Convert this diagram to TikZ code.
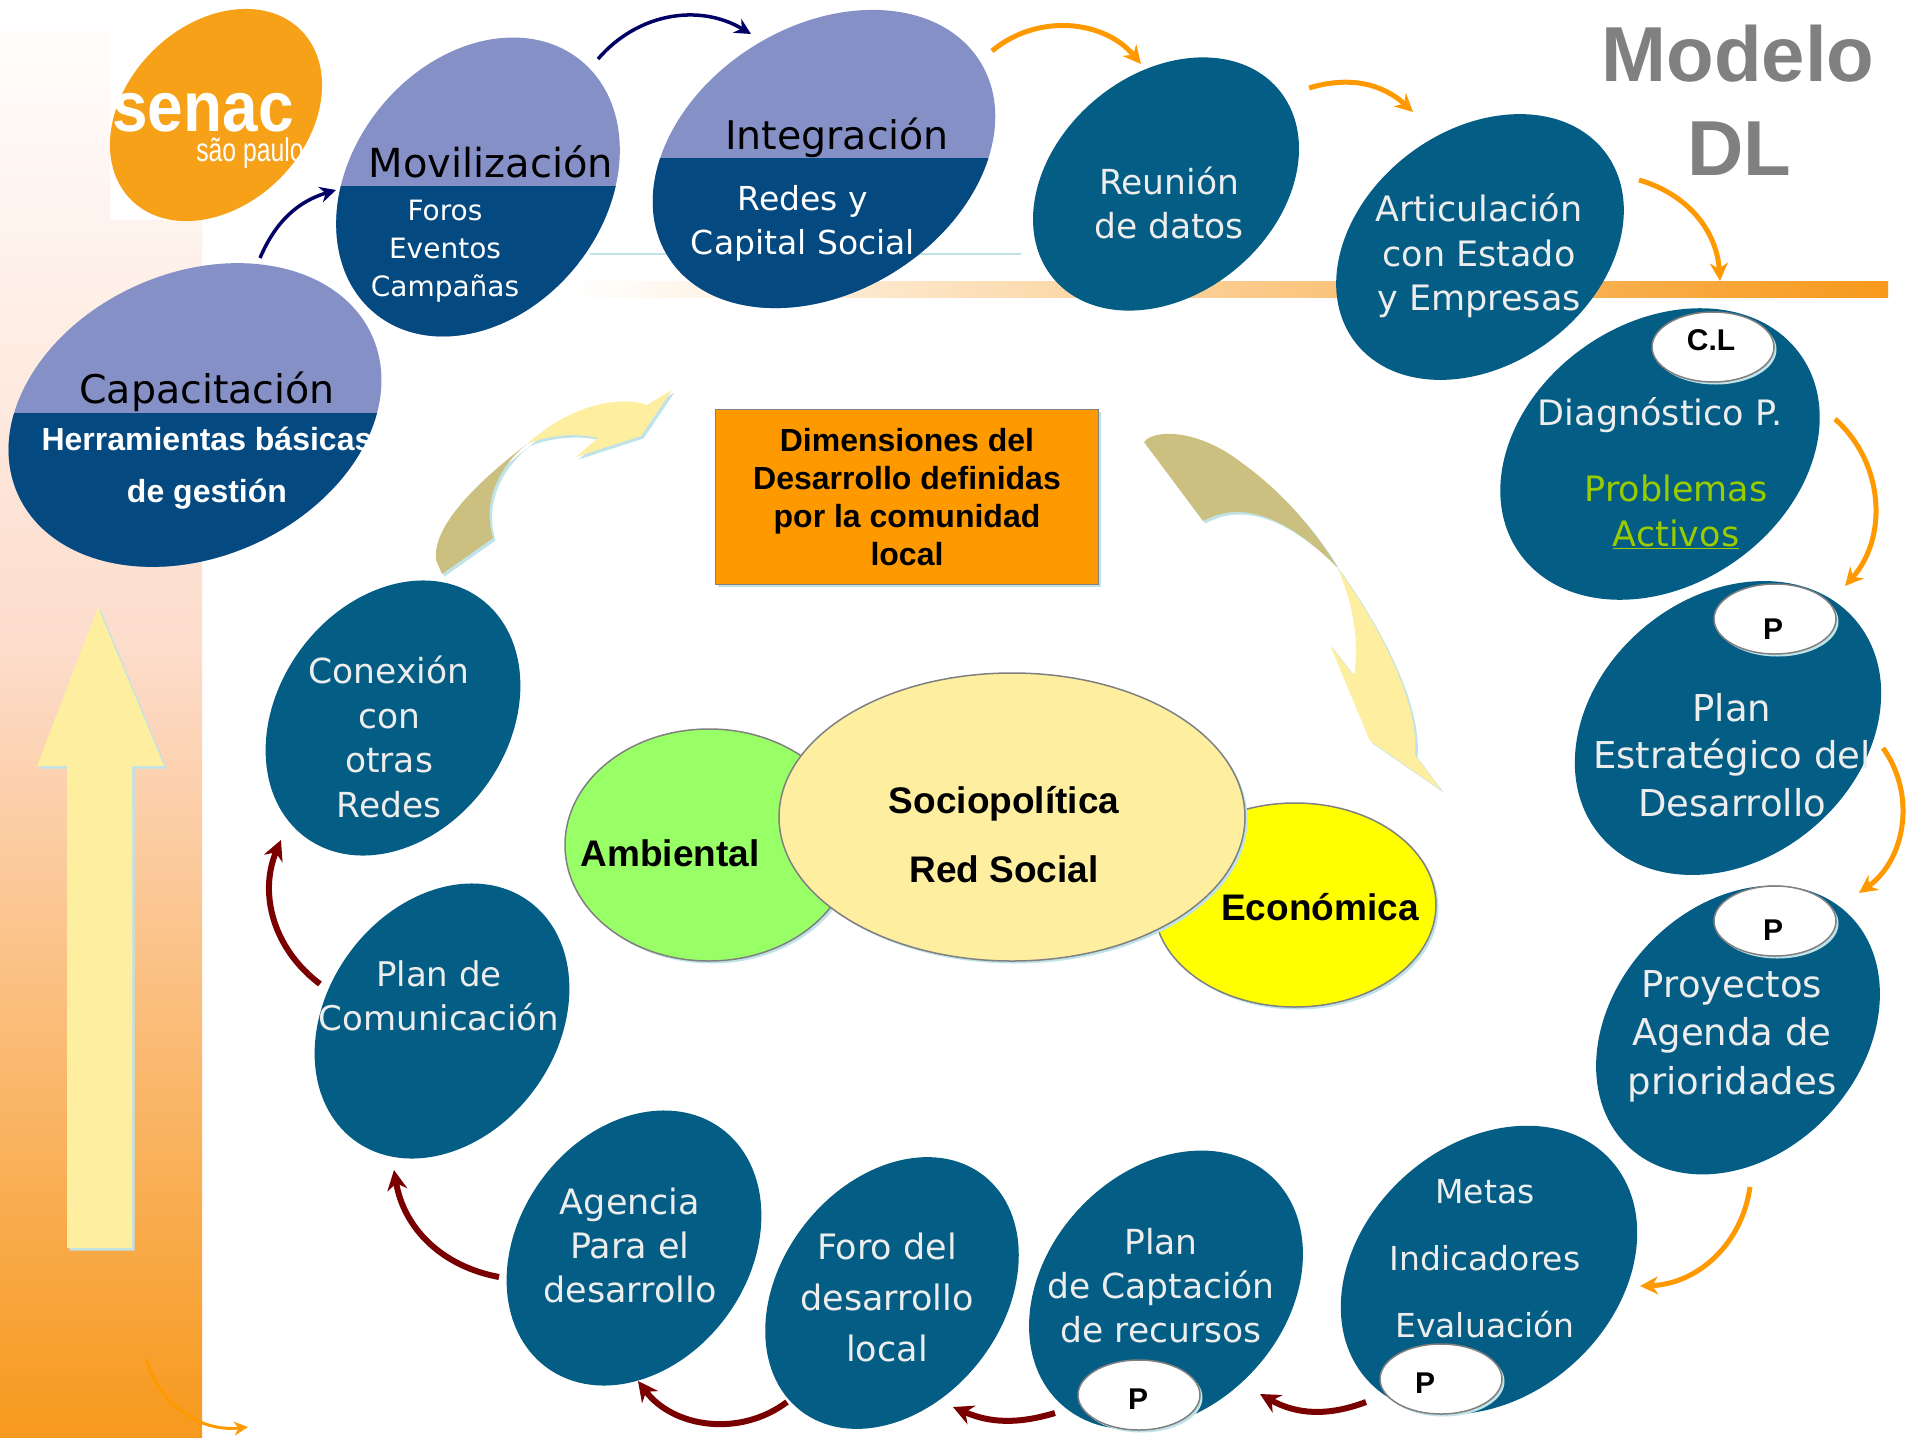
\documentclass[tikz,border=0pt]{standalone}
\usepackage{fontspec}
\usepackage{xcolor}
\usetikzlibrary{arrows.meta,shapes.geometric,shadows}
\setmainfont{DejaVu Sans}
\newfontfamily\arialfont{Liberation Sans}
\newfontfamily\logofont[FakeStretch=0.9]{Liberation Sans}
\newfontfamily\paulofont[FakeStretch=0.75]{Liberation Sans}
\definecolor{bubbleblue}{HTML}{045D84}
\definecolor{deepblue}{HTML}{044A80}
\definecolor{lavender}{HTML}{8590C6}
\definecolor{softorange}{HTML}{FF9900}
\definecolor{logoorange}{HTML}{F6A117}
\definecolor{columnorange}{HTML}{F7991C}
\definecolor{columnpeach}{HTML}{FDDCCB}
\definecolor{bandpeach}{HTML}{F9C29E}
\definecolor{darkred}{HTML}{7A0000}
\definecolor{navyline}{HTML}{000066}
\definecolor{paleyellow}{HTML}{FDEEA0}
\definecolor{khaki}{HTML}{CCC080}
\definecolor{iceblue}{HTML}{BFE3E8}
\definecolor{limetext}{HTML}{99CC00}
\definecolor{lighttext}{HTML}{EDEDED}
\definecolor{softgreen}{HTML}{99FF66}
\definecolor{sharpyellow}{HTML}{FFFF00}
\tikzset{
	bubble/.style n args={3}{ellipse, fill=bubbleblue, inner sep=0pt, rotate=#1, minimum width=#2pt, minimum height=#3pt},
	bubbletext/.style 2 args={align=center, text=lighttext, inner sep=0pt, font=\fontsize{#1}{#2}\selectfont},
	headtext/.style={align=center, text=black, inner sep=0pt, font=\fontsize{#1}{#1}\selectfont},
	softshadow/.style={drop shadow={fill=iceblue, opacity=1, shadow xshift=2.5pt, shadow yshift=-2.5pt}},
	dimension/.style n args={2}{ellipse, draw=gray, line width=1.5pt, inner sep=0pt, minimum width=#1pt, minimum height=#2pt, softshadow},
	dimtext/.style={align=center, text=black, inner sep=0pt, font=\arialfont\bfseries\fontsize{37}{37}\selectfont},
	tag/.style={ellipse, draw=gray, fill=white, line width=1.5pt, inner sep=0pt, minimum width=122pt, minimum height=70pt, softshadow},
	tagtext/.style={inner sep=0pt, text=black, font=\arialfont\bfseries\fontsize{30}{30}\selectfont},
	titletext/.style={inner sep=0pt, text=gray, font=\arialfont\bfseries\fontsize{78}{78}\selectfont},
	navyarrow/.style={draw=navyline, line width=3.5pt, -{Stealth[length=16pt,width=16pt]}},
	orangearrow/.style={draw=softorange, line width=5pt, -{Stealth[length=18pt,width=18pt]}},
	redarrow/.style={draw=darkred, line width=6pt, -{Stealth[length=20pt,width=20pt]}},
}
\begin{document}
\begin{tikzpicture}[x=1pt,y=-1pt]
	\useasboundingbox (0,0) rectangle (1915,1438);
	\fill [white] (0,0) rectangle (1915,1438);

	\shade [top color=white, bottom color=columnpeach] (0,0) rectangle (202,651);
	\shade [top color=columnpeach, bottom color=columnorange] (0,650) rectangle (202,1438);
	\fill [white] (110,0) rectangle (202,220);
	\shade [left color=white, middle color=bandpeach, right color=columnorange] (570,281) rectangle (1888,297);
	\draw [iceblue, line width=1.5pt] (590,254) -- (1021,254);

	\fill [paleyellow, softshadow] (98,607) -- (164,766) -- (132,766) -- (132,1248) -- (67,1248) -- (67,766) -- (37,766) -- cycle;

	\node [ellipse, fill=logoorange, inner sep=0pt, rotate=45, minimum width=240pt, minimum height=180pt] (logo) at (216,115){};
	\node [inner sep=0pt, text=white, font=\logofont\bfseries\fontsize{71}{71}\selectfont] (senac) at (203,113){senac};
	\node [inner sep=0pt, text=white, font=\paulofont\fontsize{33}{33}\selectfont] (saopaulo) at (250,153){são paulo};

	\node [bubble={24}{388}{284}, fill=lavender] (1) at (195,415){};
	\node [bubble={51}{326}{252}, fill=lavender] (2) at (478,187){};
	\node [bubble={32}{368}{266}, fill=lavender] (3) at (824,159){};
	\begin{scope}
		\clip [rotate around={24:(1.center)}] (1.center) ellipse [x radius=194, y radius=142];
		\fill [deepblue] (0,413) rectangle (400,600);
	\end{scope}
	\begin{scope}
		\clip [rotate around={51:(2.center)}] (2.center) ellipse [x radius=163, y radius=126];
		\fill [deepblue] (300,186) rectangle (640,350);
	\end{scope}
	\begin{scope}
		\clip [rotate around={32:(3.center)}] (3.center) ellipse [x radius=184, y radius=133];
		\fill [deepblue] (640,158) rectangle (1000,320);
	\end{scope}
	\node [bubble={40}{294}{220}] (4) at (1166,184){};
	\node [bubble={37}{314}{234}] (5) at (1480,247){};
	\node [bubble={35}{344}{262}] (6) at (1660,454){};
	\node [bubble={40}{334}{262}] (7) at (1728,728){};
	\node [bubble={47}{320}{248}] (8) at (1738,1030){};
	\node [bubble={42}{328}{252}] (9) at (1489,1270){};
	\node [bubble={47}{310}{238}] (10) at (1166,1290){};
	\node [bubble={52}{298}{222}] (11) at (892,1293){};
	\node [bubble={54}{296}{230}] (12) at (634,1248){};
	\node [bubble={54}{296}{230}] (13) at (442,1021){};
	\node [bubble={54}{296}{230}] (14) at (393,718){};

	\node [headtext=39.5] (capacitacion) at (207,392){Capacitación};
	\node [align=center, inner sep=0pt, text=white, font=\arialfont\bfseries\fontsize{32}{52}\selectfont] (herramientas) at (207,468){Herramientas básicas\\de gestión};
	\node [headtext=40] (movilizacion) at (491,162){Movilización};
	\node [bubbletext={28}{38}, text=white] (foros) at (445,251){Foros\\Eventos\\Campañas};
	\node [headtext=39.5] (integracion) at (837,138){Integración};
	\node [bubbletext={33}{44}, text=white] (redes) at (803,223){Redes y\\Capital Social};
	\node [bubbletext={34.5}{44.6}] (reunion) at (1169,203){Reunión\\de datos};
	\node [bubbletext={35}{44.6}] (articulacion) at (1479,256){Articulación\\con Estado\\y Empresas};
	\node [bubbletext={35}{44}] (diagnostico) at (1660,415){Diagnóstico P.};
	\node [bubbletext={35}{44.6}, text=limetext] (problemas) at (1676,512){Problemas\\\underline{Activos}};
	\node [bubbletext={37}{47.6}] (estrategico) at (1732,755){Plan\\Estratégico del\\Desarrollo};
	\node [bubbletext={37}{48.5}] (proyectos) at (1732,1036){Proyectos\\Agenda de\\prioridades};
	\node [bubbletext={33}{67}] (metas) at (1485,1259){Metas\\Indicadores\\Evaluación};
	\node [bubbletext={34.5}{44}] (captacion) at (1161,1286){Plan\\de Captación\\de recursos};
	\node [bubbletext={35}{51}] (foro) at (887,1297){Foro del\\desarrollo\\local};
	\node [bubbletext={35}{44}] (agencia) at (630,1245){Agencia\\Para el\\desarrollo};
	\node [bubbletext={34}{44}] (comunicacion) at (439,996){Plan de\\Comunicación};
	\node [bubbletext={34.5}{44.8}] (conexion) at (389,737){Conexión\\con\\otras\\Redes};

	\node [tag] (tagcl) at (1713,347){};
	\node [tag] (tagplan) at (1775,619){};
	\node [tag] (tagproyectos) at (1775,921){};
	\node [tag] (tagcaptacion) at (1139,1395){};
	\node [tag] (tagmetas) at (1441,1379){};
	\node [tagtext] (clabel) at (1711,340){C.L};
	\node [tagtext] (plabela) at (1773,629){P};
	\node [tagtext] (plabelb) at (1773,930){P};
	\node [tagtext] (plabelc) at (1138,1399){P};
	\node [tagtext] (plabeld) at (1425,1383){P};

	\node [titletext] (modelo) at (1738,54){Modelo};
	\node [titletext] (dl) at (1739,149){DL};

	\node [draw=gray, line width=1.5pt, fill=softorange, align=center, minimum width=383pt, minimum height=175pt, softshadow, font=\arialfont\bfseries\fontsize{32}{38}\selectfont] (dimensiones) at (907,497){Dimensiones del\\Desarrollo definidas\\por la comunidad\\local};

	\node [dimension={288}{232}, fill=softgreen] (ambiental) at (709,845){};
	\node [dimension={282}{204}, fill=sharpyellow] (economica) at (1295,905){};
	\node [dimension={466}{288}, fill=paleyellow] (sociopolitica) at (1012,817){};
	\node [dimtext] (ambientaltext) at (670,853){Ambiental};
	\node [dimtext] (economicatext) at (1320,907){Económica};
	\node [dimtext, font=\arialfont\bfseries\fontsize{37}{69}\selectfont] (redsocial) at (1004,835){Sociopolítica\\Red Social};

	\fill [khaki, softshadow] (442,574) -- (493,538) .. controls (483,505) and (495,470) .. (527,444) .. controls (480,480) and (432,525) .. (436,560) -- cycle;
	\fill [paleyellow, softshadow] (527,444) .. controls (545,436) and (575,432) .. (598,438) -- (576,457) -- (641,436) -- (672,390) -- (647,405) .. controls (620,395) and (570,405) .. (527,444) -- cycle;
	\fill [khaki, softshadow] (1144,442) .. controls (1155,428) and (1200,430) .. (1242,463) .. controls (1280,490) and (1315,530) .. (1337,567) .. controls (1300,530) and (1250,495) .. (1203,521) -- cycle;
	\fill [paleyellow, softshadow] (1337,567) .. controls (1375,620) and (1420,700) .. (1415,755) -- (1441,790) -- (1370,741) -- (1330,645) -- (1354,676) .. controls (1360,640) and (1352,600) .. (1337,567) -- cycle;

	\draw [navyarrow] ([shift={(65,-157)}]1.center) to [bend left=25] ([shift={(-142,3)}]2.center);
	\draw [navyarrow] ([shift={(120,-128)}]2.center) to [bend left=40] ([shift={(-73,-125)}]3.center);
	\draw [orangearrow] ([shift={(168,-108)}]3.center) to [bend left=45] ([shift={(-25,-120)}]4.center);
	\draw [orangearrow] ([shift={(143,-96)}]4.center) to [bend left=30] ([shift={(-67,-135)}]5.center);
	\draw [orangearrow] ([shift={(159,-67)}]5.center) to [bend left=35] ([shift={(60,-173)}]6.center);
	\draw [orangearrow] ([shift={(175,-35)}]6.center) to [bend left=45] ([shift={(117,-142)}]7.center);
	\draw [orangearrow] ([shift={(155,20)}]7.center) to [bend left=45] ([shift={(121,-137)}]8.center);
	\draw [orangearrow] ([shift={(12,157)}]8.center) to [bend left=40] ([shift={(151,16)}]9.center);
	\draw [redarrow] ([shift={(-123,132)}]9.center) to [bend left=25] ([shift={(94,104)}]10.center);
	\draw [redarrow] ([shift={(-111,123)}]10.center) to [bend left=20] ([shift={(61,114)}]11.center);
	\draw [redarrow] ([shift={(-105,109)}]11.center) to [bend left=45] ([shift={(4,133)}]12.center);
	\draw [redarrow] ([shift={(-135,29)}]12.center) to [bend left=35] ([shift={(-48,149)}]13.center);
	\draw [redarrow] ([shift={(-122,-37)}]13.center) to [bend left=38] ([shift={(-112,122)}]14.center);
	\coordinate (straystart) at (146,1359);
	\coordinate (strayend) at (248,1427);
	\draw [draw=softorange, line width=3pt, -{Stealth[length=14pt,width=14pt]}] (straystart) to [bend right=40] (strayend);
\end{tikzpicture}
\end{document}
